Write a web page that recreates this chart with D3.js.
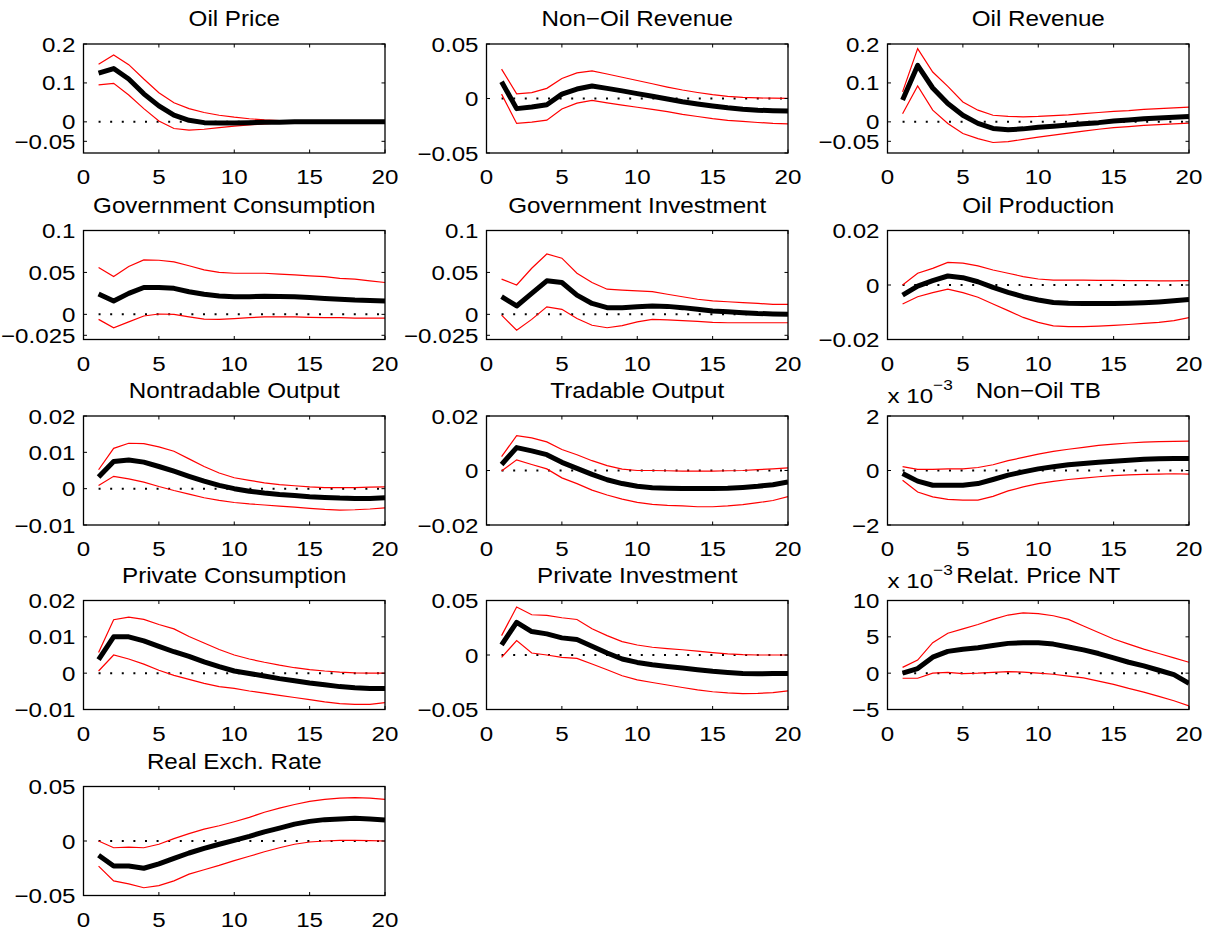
<!DOCTYPE html>
<html>
<head>
<meta charset="utf-8">
<script src="https://cdn.jsdelivr.net/npm/d3@7"></script>
<style>
  html, body { margin: 0; padding: 0; background: #fff; }
  svg { display: block; }
  text { font-family: "Liberation Sans", Arial, Helvetica, sans-serif; fill: #000; }
</style>
</head>
<body>
<div id="viz"></div>
<script>
// horizons 1..20
const HORIZONS = [1, 2, 3, 4, 5, 6, 7, 8, 9, 10, 11, 12, 13, 14, 15, 16, 17, 18, 19, 20];
const X_TICKS = [0, 5, 10, 15, 20];

// median response (thick black) and bands (thin red)
const OIL_PRICE_MED = [0.125, 0.137, 0.110, 0.072, 0.041, 0.017, 0.004, -0.002, -0.003, -0.003, -0.002, -0.001, -0.001, 0, 0, 0, 0, 0, 0, 0];
const OIL_PRICE_HI = [0.148, 0.172, 0.147, 0.110, 0.075, 0.049, 0.034, 0.024, 0.017, 0.012, 0.008, 0.005, 0.003, 0.002, 0.001, 0.001, 0.001, 0.001, 0.001, 0.001];
const OIL_PRICE_LO = [0.095, 0.099, 0.069, 0.034, 0.002, -0.017, -0.021, -0.019, -0.015, -0.011, -0.008, -0.005, -0.003, -0.002, -0.001, -0.001, -0.001, -0.001, -0.001, -0.001];

const NONOIL_REV_MED = [0.0154, -0.0093, -0.0078, -0.0057, 0.004, 0.0087, 0.0114, 0.0093, 0.007, 0.0045, 0.002, -0.0005, -0.003, -0.005, -0.0068, -0.0085, -0.0098, -0.0107, -0.0112, -0.0114];
const NONOIL_REV_HI = [0.027, 0.0042, 0.0054, 0.0093, 0.0184, 0.0235, 0.0253, 0.0225, 0.0195, 0.0165, 0.0135, 0.0105, 0.0078, 0.0055, 0.0035, 0.002, 0.001, 0.0005, 0.0003, 0.0002];
const NONOIL_REV_LO = [0.004, -0.0229, -0.0217, -0.0199, -0.0096, -0.0042, -0.0018, -0.004, -0.006, -0.008, -0.010, -0.012, -0.0145, -0.0165, -0.0185, -0.020, -0.021, -0.022, -0.0228, -0.0232];

const OIL_REV_MED = [0.056, 0.145, 0.087, 0.047, 0.017, -0.004, -0.017, -0.020, -0.018, -0.014, -0.011, -0.008, -0.005, -0.002, 0.002, 0.005, 0.008, 0.010, 0.012, 0.014];
const OIL_REV_HI = [0.077, 0.188, 0.128, 0.091, 0.051, 0.030, 0.017, 0.014, 0.013, 0.014, 0.016, 0.018, 0.021, 0.024, 0.027, 0.029, 0.032, 0.034, 0.036, 0.038];
const OIL_REV_LO = [0.021, 0.092, 0.030, -0.004, -0.030, -0.043, -0.053, -0.051, -0.045, -0.039, -0.034, -0.029, -0.024, -0.019, -0.015, -0.012, -0.009, -0.007, -0.005, -0.003];

const GOV_CONS_MED = [0.0243, 0.016, 0.025, 0.032, 0.032, 0.031, 0.027, 0.024, 0.022, 0.021, 0.021, 0.0215, 0.0212, 0.021, 0.020, 0.019, 0.018, 0.017, 0.0165, 0.016];
const GOV_CONS_HI = [0.056, 0.045, 0.057, 0.065, 0.0645, 0.0625, 0.058, 0.053, 0.050, 0.049, 0.049, 0.049, 0.048, 0.047, 0.046, 0.045, 0.043, 0.042, 0.040, 0.038];
const GOV_CONS_LO = [-0.006, -0.016, -0.009, -0.002, 0.0004, 0, -0.003, -0.0056, -0.006, -0.005, -0.004, -0.003, -0.003, -0.003, -0.0035, -0.004, -0.004, -0.0045, -0.0045, -0.0045];

const GOV_INV_MED = [0.021, 0.010, 0.025, 0.040, 0.038, 0.023, 0.013, 0.008, 0.008, 0.009, 0.010, 0.0095, 0.008, 0.006, 0.004, 0.003, 0.002, 0.001, 0.0005, 0];
const GOV_INV_HI = [0.042, 0.035, 0.055, 0.072, 0.067, 0.049, 0.038, 0.030, 0.029, 0.028, 0.027, 0.024, 0.021, 0.018, 0.016, 0.015, 0.014, 0.013, 0.012, 0.012];
const GOV_INV_LO = [-0.001, -0.019, -0.006, 0.009, 0.006, -0.005, -0.013, -0.016, -0.0135, -0.009, -0.006, -0.0065, -0.0075, -0.0085, -0.0095, -0.010, -0.010, -0.010, -0.010, -0.010];

const OIL_PROD_MED = [-0.0037, -0.0004, 0.0016, 0.0033, 0.0027, 0.0012, -0.0009, -0.0027, -0.0043, -0.0055, -0.0064, -0.0067, -0.0068, -0.0068, -0.0068, -0.0067, -0.0065, -0.0062, -0.0058, -0.0053];
const OIL_PROD_HI = [0, 0.0043, 0.0061, 0.0083, 0.008, 0.007, 0.0055, 0.0043, 0.0031, 0.0022, 0.0018, 0.0018, 0.0018, 0.0017, 0.0017, 0.0016, 0.0016, 0.0015, 0.0015, 0.0016];
const OIL_PROD_LO = [-0.007, -0.0043, -0.0028, -0.0015, -0.0028, -0.0045, -0.007, -0.0094, -0.0119, -0.0137, -0.015, -0.0153, -0.0153, -0.0151, -0.0148, -0.0145, -0.0141, -0.0137, -0.0131, -0.012];

const NT_OUT_MED = [0.0032, 0.0075, 0.0079, 0.0073, 0.0061, 0.0048, 0.0034, 0.0021, 0.0009, 0, -0.0007, -0.0012, -0.0016, -0.0019, -0.0022, -0.0024, -0.0026, -0.0027, -0.0027, -0.0025];
const NT_OUT_HI = [0.0052, 0.0111, 0.0125, 0.0124, 0.0115, 0.0103, 0.0082, 0.0061, 0.0043, 0.003, 0.0023, 0.0016, 0.0011, 0.0008, 0.0005, 0.0003, 0.0003, 0.0003, 0.0004, 0.0005];
const NT_OUT_LO = [0.0009, 0.0034, 0.0027, 0.0018, 0.0006, -0.0005, -0.0015, -0.0025, -0.0032, -0.0038, -0.0042, -0.0045, -0.0048, -0.0051, -0.0054, -0.0057, -0.0059, -0.0058, -0.0056, -0.0053];

const T_OUT_MED = [0.0022, 0.0084, 0.0072, 0.0058, 0.003, 0.0008, -0.0014, -0.0034, -0.0048, -0.0058, -0.0063, -0.0065, -0.0066, -0.0066, -0.0066, -0.0065, -0.0062, -0.0058, -0.0052, -0.0042];
const T_OUT_HI = [0.0051, 0.0128, 0.012, 0.0105, 0.0077, 0.0058, 0.0036, 0.0018, 0.0005, 0, 0, -0.0001, -0.0002, -0.0002, -0.0002, -0.0001, 0, 0.0003, 0.0006, 0.001];
const T_OUT_LO = [-0.0002, 0.0039, 0.0022, 0.0006, -0.0027, -0.0048, -0.0072, -0.009, -0.0105, -0.0117, -0.0124, -0.0128, -0.013, -0.0133, -0.0133, -0.013, -0.0125, -0.0118, -0.011, -0.0096];

// Non-Oil TB, in units of 1e-3
const NONOIL_TB_MED = [-0.11, -0.39, -0.54, -0.54, -0.54, -0.48, -0.33, -0.17, -0.05, 0.06, 0.14, 0.21, 0.26, 0.30, 0.34, 0.38, 0.41, 0.43, 0.44, 0.44];
const NONOIL_TB_HI = [0.14, 0.04, 0.04, 0.06, 0.06, 0.11, 0.21, 0.36, 0.48, 0.60, 0.70, 0.78, 0.85, 0.92, 0.97, 1.01, 1.04, 1.06, 1.07, 1.08];
const NONOIL_TB_LO = [-0.36, -0.79, -0.97, -1.06, -1.09, -1.09, -0.95, -0.75, -0.60, -0.48, -0.40, -0.33, -0.28, -0.23, -0.19, -0.16, -0.14, -0.13, -0.12, -0.13];

const PRIV_CONS_MED = [0.0037, 0.01, 0.01, 0.0089, 0.0074, 0.0059, 0.0046, 0.0031, 0.0018, 0.0006, -0.0001, -0.0008, -0.0015, -0.0021, -0.0027, -0.0032, -0.0037, -0.004, -0.0042, -0.0042];
const PRIV_CONS_HI = [0.0057, 0.0147, 0.0154, 0.0148, 0.0134, 0.0122, 0.0101, 0.0083, 0.0065, 0.005, 0.0039, 0.003, 0.0022, 0.0015, 0.001, 0.0006, 0.0003, 0.0001, 0, 0];
const PRIV_CONS_LO = [0.0006, 0.005, 0.0039, 0.0025, 0.0008, -0.0006, -0.0017, -0.0028, -0.0037, -0.0042, -0.0049, -0.0055, -0.0061, -0.0067, -0.0073, -0.0079, -0.0084, -0.0086, -0.0086, -0.0081];

const PRIV_INV_MED = [0.0092, 0.030, 0.0215, 0.0194, 0.0157, 0.0142, 0.008, 0.0018, -0.0037, -0.0068, -0.0089, -0.0105, -0.012, -0.0135, -0.015, -0.016, -0.017, -0.0172, -0.017, -0.0169];
const PRIV_INV_HI = [0.0178, 0.044, 0.0369, 0.0363, 0.0342, 0.0326, 0.024, 0.0178, 0.0123, 0.0092, 0.0071, 0.0058, 0.0048, 0.0035, 0.0022, 0.001, 0.0003, 0, 0, 0];
const PRIV_INV_LO = [-0.0022, 0.0132, 0.0018, 0, -0.0022, -0.0031, -0.0083, -0.0135, -0.019, -0.0228, -0.0252, -0.0275, -0.0298, -0.032, -0.0337, -0.0348, -0.0354, -0.0352, -0.0345, -0.0329];

// Relat. Price NT, in units of 1e-3
const REL_PRICE_MED = [0, 0.64, 2.2, 3.0, 3.3, 3.5, 3.8, 4.1, 4.2, 4.2, 4.0, 3.6, 3.2, 2.7, 2.1, 1.5, 1.0, 0.4, -0.2, -1.4];
const REL_PRICE_HI = [0.8, 1.8, 4.2, 5.5, 6.1, 6.7, 7.4, 8.0, 8.3, 8.2, 7.9, 7.4, 6.5, 5.6, 4.7, 4.0, 3.3, 2.7, 2.1, 1.5];
const REL_PRICE_LO = [-0.7, -0.7, 0, 0.1, -0.05, 0, 0.1, 0.2, 0.15, 0, -0.15, -0.4, -0.65, -1.1, -1.55, -2.1, -2.6, -3.2, -3.8, -4.5];

const RER_MED = [-0.013, -0.023, -0.023, -0.025, -0.021, -0.016, -0.011, -0.0068, -0.003, 0.0006, 0.0043, 0.0084, 0.0118, 0.0155, 0.018, 0.0196, 0.0202, 0.0208, 0.0202, 0.0193];
const RER_HI = [0, -0.0062, -0.0056, -0.0062, -0.003, 0.0022, 0.0068, 0.0109, 0.014, 0.0177, 0.0217, 0.0264, 0.0301, 0.0335, 0.0363, 0.0382, 0.0394, 0.0398, 0.0394, 0.0382];
const RER_LO = [-0.023, -0.0366, -0.0394, -0.0429, -0.041, -0.0366, -0.0304, -0.0264, -0.0224, -0.018, -0.014, -0.0099, -0.0062, -0.003, -0.0009, 0, 0.0006, 0.0006, 0.0003, 0];

// panel titles, axis ranges and tick labels (row by row, 3 per row)
const TITLES = [
  "Oil Price", "Non\u2212Oil Revenue", "Oil Revenue",
  "Government Consumption", "Government Investment", "Oil Production",
  "Nontradable Output", "Tradable Output", "Non\u2212Oil TB",
  "Private Consumption", "Private Investment", "Relat. Price NT",
  "Real Exch. Rate"
];
const Y_LIMITS = [
  [-0.08, 0.2], [-0.05, 0.05], [-0.08, 0.2],
  [-0.03, 0.1], [-0.03, 0.1], [-0.02, 0.02],
  [-0.01, 0.02], [-0.02, 0.02], [-2, 2],
  [-0.01, 0.02], [-0.05, 0.05], [-5, 10],
  [-0.05, 0.05]
];
const Y_TICKS = [
  [-0.05, 0, 0.1, 0.2], [-0.05, 0, 0.05], [-0.05, 0, 0.1, 0.2],
  [-0.025, 0, 0.05, 0.1], [-0.025, 0, 0.05, 0.1], [-0.02, 0, 0.02],
  [-0.01, 0, 0.01, 0.02], [-0.02, 0, 0.02], [-2, 0, 2],
  [-0.01, 0, 0.01, 0.02], [-0.05, 0, 0.05], [-5, 0, 5, 10],
  [-0.05, 0, 0.05]
];
// exponent label shown above the axes ("x 10^-3"), null if none
const Y_EXPONENT = [null, null, null, null, null, null, null, null, -3, null, null, -3, null];

const SERIES = [
  [OIL_PRICE_MED, OIL_PRICE_LO, OIL_PRICE_HI],
  [NONOIL_REV_MED, NONOIL_REV_LO, NONOIL_REV_HI],
  [OIL_REV_MED, OIL_REV_LO, OIL_REV_HI],
  [GOV_CONS_MED, GOV_CONS_LO, GOV_CONS_HI],
  [GOV_INV_MED, GOV_INV_LO, GOV_INV_HI],
  [OIL_PROD_MED, OIL_PROD_LO, OIL_PROD_HI],
  [NT_OUT_MED, NT_OUT_LO, NT_OUT_HI],
  [T_OUT_MED, T_OUT_LO, T_OUT_HI],
  [NONOIL_TB_MED, NONOIL_TB_LO, NONOIL_TB_HI],
  [PRIV_CONS_MED, PRIV_CONS_LO, PRIV_CONS_HI],
  [PRIV_INV_MED, PRIV_INV_LO, PRIV_INV_HI],
  [REL_PRICE_MED, REL_PRICE_LO, REL_PRICE_HI],
  [RER_MED, RER_LO, RER_HI]
];

// layout
const WIDTH = 1211;
const HEIGHT = 931;
const COL_LEFT = [83.5, 486.5, 887.5];
const ROW_TOP = [44, 230.5, 416, 600.5, 786.5];
const AX_W = 301.5;
const AX_H = 109;
const TITLE_FONT = 22;
const TICK_FONT = 21;
const TEXT_SX = 1.1;
const TICK_SX = 1.15;
const TICK_LEN = 3.5;

const svg = d3.select("#viz").append("svg")
  .attr("width", WIDTH)
  .attr("height", HEIGHT);
svg.append("rect").attr("width", WIDTH).attr("height", HEIGHT).attr("fill", "#fff");

// MATLAB-ish number format: real minus sign
function fmt(v) {
  const s = String(+v.toPrecision(6));
  return s.replace("-", "\u2212");
}

function addText(g, x, y, str, anchor, size, sx) {
  return g.append("text")
    .attr("transform", `translate(${x},${y}) scale(${sx},1)`)
    .attr("text-anchor", anchor)
    .attr("font-size", size)
    .text(str);
}

TITLES.forEach((title, i) => {
  const row = Math.floor(i / 3);
  const col = i % 3;
  const left = COL_LEFT[col];
  const top = ROW_TOP[row];
  const [med, lo, hi] = SERIES[i];

  const x = d3.scaleLinear().domain([0, 20]).range([left, left + AX_W]);
  const y = d3.scaleLinear().domain(Y_LIMITS[i]).range([top + AX_H, top]);

  const g = svg.append("g");

  // clip to the axes box
  const clipId = `clip-${i}`;
  g.append("clipPath").attr("id", clipId)
    .append("rect").attr("x", left).attr("y", top).attr("width", AX_W).attr("height", AX_H);
  const plot = g.append("g").attr("clip-path", `url(#${clipId})`);

  const line = d3.line()
    .x((d, k) => x(HORIZONS[k]))
    .y(d => y(d));

  // zero reference (dotted)
  plot.append("path")
    .datum(HORIZONS.map(() => 0))
    .attr("d", line)
    .attr("fill", "none")
    .attr("stroke", "#000")
    .attr("stroke-width", 2)
    .attr("stroke-dasharray", "2 9.6");

  [lo, hi].forEach(band => {
    plot.append("path")
      .datum(band)
      .attr("d", line)
      .attr("fill", "none")
      .attr("stroke", "#ff0000")
      .attr("stroke-width", 1.2);
  });

  plot.append("path")
    .datum(med)
    .attr("d", line)
    .attr("fill", "none")
    .attr("stroke", "#000")
    .attr("stroke-width", 5)
    .attr("stroke-linejoin", "round");

  // box
  g.append("rect")
    .attr("x", left).attr("y", top)
    .attr("width", AX_W).attr("height", AX_H)
    .attr("fill", "none")
    .attr("stroke", "#000")
    .attr("stroke-width", 1.3);

  // ticks pointing inward on all four sides
  X_TICKS.forEach(t => {
    const px = x(t);
    g.append("line").attr("x1", px).attr("x2", px)
      .attr("y1", top + AX_H).attr("y2", top + AX_H - TICK_LEN)
      .attr("stroke", "#000").attr("stroke-width", 1);
    g.append("line").attr("x1", px).attr("x2", px)
      .attr("y1", top).attr("y2", top + TICK_LEN)
      .attr("stroke", "#000").attr("stroke-width", 1);
    addText(g, px, top + AX_H + 31, fmt(t), "middle", TICK_FONT, TICK_SX);
  });
  Y_TICKS[i].forEach(t => {
    const py = y(t);
    g.append("line").attr("x1", left).attr("x2", left + TICK_LEN)
      .attr("y1", py).attr("y2", py)
      .attr("stroke", "#000").attr("stroke-width", 1);
    g.append("line").attr("x1", left + AX_W).attr("x2", left + AX_W - TICK_LEN)
      .attr("y1", py).attr("y2", py)
      .attr("stroke", "#000").attr("stroke-width", 1);
    addText(g, left - 8, py + 7.5, fmt(t), "end", TICK_FONT, TICK_SX);
  });

  // exponent label
  if (Y_EXPONENT[i] !== null) {
    const t = g.append("text")
      .attr("transform", `translate(${left},${top - 13}) scale(${TICK_SX},1)`)
      .attr("font-size", TICK_FONT);
    t.append("tspan").text("x 10");
    t.append("tspan").attr("dy", -13).attr("font-size", 15).text(fmt(Y_EXPONENT[i]));
  }

  addText(g, left + AX_W / 2, top - 18, title, "middle", TITLE_FONT, TEXT_SX);
});
</script>
</body>
</html>
